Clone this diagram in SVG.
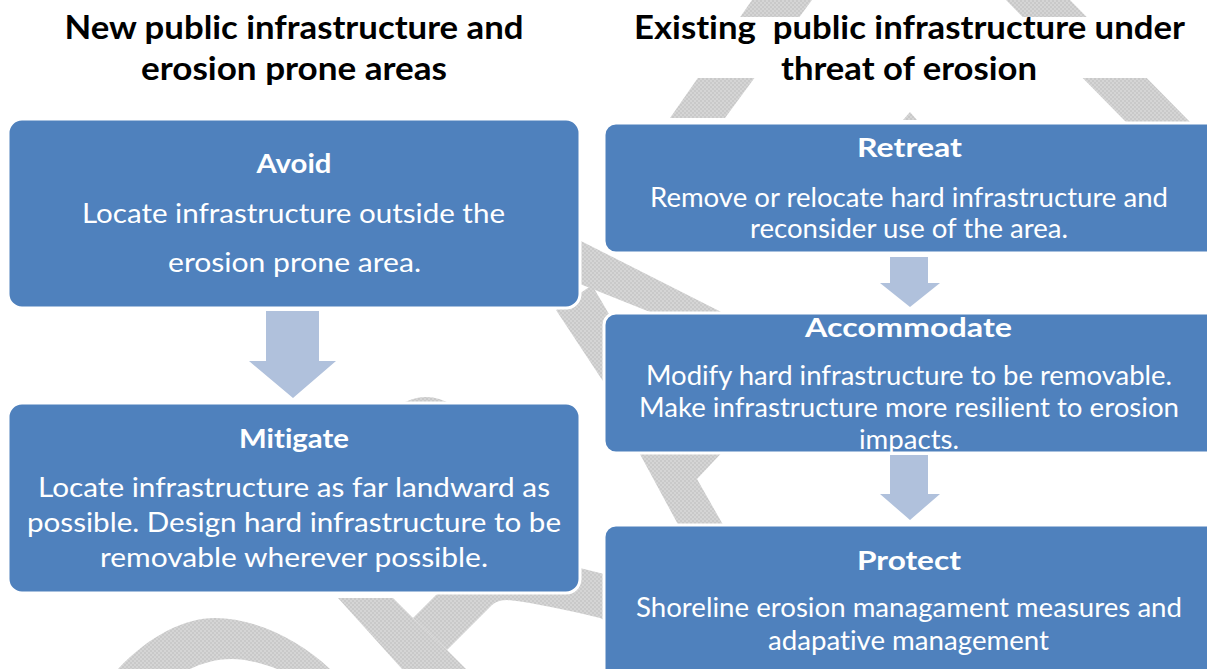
<svg xmlns="http://www.w3.org/2000/svg" width="1207" height="669" viewBox="0 0 1207 669">
  <defs>
    <!-- fine checker texture for the faint background watermark -->
    <pattern id="hatch" width="4" height="4" patternUnits="userSpaceOnUse">
      <rect width="4" height="4" fill="#d5d5d5"/>
      <rect width="2" height="2" fill="#c9c9c9"/>
      <rect x="2" y="2" width="2" height="2" fill="#c9c9c9"/>
    </pattern>
    <style>
      .wm { fill: url(#hatch); }
      .box { fill: #4f81bd; stroke: #ffffff; stroke-width: 3; }
      .arrow { fill: #b0c1dc; }
      text { font-family: Lato, "Liberation Sans", sans-serif; font-variant-ligatures: none; text-anchor: middle; }
      .title { font-weight: 700; font-size: 33px; fill: #000000; }
      .head { font-weight: 700; font-size: 27px; fill: #ffffff; }
      .body { font-weight: 400; font-size: 26px; fill: #ffffff; }
    </style>
  </defs>

  <rect width="1207" height="669" fill="#ffffff"/>

  <!-- faint watermark strokes behind everything -->
  <g id="watermark">
    <polygon class="wm" points="670,118 725,118 812,0 752,0"/>
    <polygon class="wm" points="1006,0 1070,0 1190,122 1126,122"/>
    <polygon class="wm" points="903,120 910,112 917,120"/>
    <polygon class="wm" points="575,238 737,320 670,320 575,282"/>
    <polygon class="wm" points="556,310 592,285 665,410 622,410"/>
    <polygon class="wm" points="635,445 729,445 697,479 726,530 681,530"/>
    <path class="wm" d="M398,406 Q426,388 454,406 Z"/>
    <path class="wm" d="M118,669 C150,635 185,618 215,618 C255,618 300,640 330,669 L277,669 C262,663 245,659 232,659 C215,659 200,664 190,669 Z"/>
    <polygon class="wm" points="338,598 393,598 413,618 447,650 466,669 402,669"/>
    <path class="wm" d="M413,618 L445,586 C470,566 520,556 560,563 L612,576 L612,624 L600,618 C570,611 535,603 507,600 C498,600 494,603 490,607 L447,650 Z"/>
    <!-- white panel behind the right-hand heading -->
    <rect x="600" y="17" width="607" height="61" fill="#ffffff"/>
  </g>

  <!-- column headings -->
  <g id="title-new">
    <text class="title" x="294" y="39" textLength="459" lengthAdjust="spacingAndGlyphs">New public infrastructure and</text>
    <text class="title" x="294" y="80" textLength="306" lengthAdjust="spacingAndGlyphs">erosion prone areas</text>
  </g>
  <g id="title-existing">
    <text class="title" x="909.5" y="39" textLength="551" lengthAdjust="spacingAndGlyphs" style="white-space:pre">Existing  public infrastructure under</text>
    <text class="title" x="909" y="80" textLength="256" lengthAdjust="spacingAndGlyphs">threat of erosion</text>
  </g>

  <!-- flow arrows -->
  <g id="connectors">
    <path class="arrow" d="M266,311 H319 V361 H336 L293,398 L249,361 H266 Z"/>
    <path class="arrow" d="M890,257 H928 V283 H940 L910,307 L880,283 H890 Z"/>
    <path class="arrow" d="M890,455 H928 V494 H940 L910,520 L880,494 H890 Z"/>
  </g>

  <g id="avoid">
    <rect class="box" x="8" y="119" width="572" height="189" rx="14"/>
    <text class="head" x="294" y="173" textLength="75" lengthAdjust="spacingAndGlyphs">Avoid</text>
    <text class="body" x="293.5" y="223" textLength="423" lengthAdjust="spacingAndGlyphs">Locate infrastructure outside the</text>
    <text class="body" x="294.5" y="272" textLength="253" lengthAdjust="spacingAndGlyphs">erosion prone area.</text>
  </g>

  <g id="mitigate">
    <rect class="box" x="8" y="403" width="572" height="190" rx="14"/>
    <text class="head" x="294" y="448" textLength="110" lengthAdjust="spacingAndGlyphs">Mitigate</text>
    <text class="body" x="294" y="497" textLength="512" lengthAdjust="spacingAndGlyphs">Locate infrastructure as far landward as</text>
    <text class="body" x="294" y="532" textLength="534" lengthAdjust="spacingAndGlyphs">possible. Design hard infrastructure to be</text>
    <text class="body" x="294" y="567" textLength="388" lengthAdjust="spacingAndGlyphs">removable wherever possible.</text>
  </g>

  <g id="retreat">
    <rect class="box" x="604" y="123" width="620" height="130" rx="12"/>
    <text class="head" x="909.5" y="157" textLength="105" lengthAdjust="spacingAndGlyphs">Retreat</text>
    <text class="body" x="909" y="207" textLength="518" lengthAdjust="spacingAndGlyphs">Remove or relocate hard infrastructure and</text>
    <text class="body" x="909" y="238" textLength="318" lengthAdjust="spacingAndGlyphs">reconsider use of the area.</text>
  </g>

  <g id="accommodate">
    <rect class="box" x="604" y="313" width="620" height="140" rx="12"/>
    <text class="head" x="908.5" y="337" textLength="207" lengthAdjust="spacingAndGlyphs">Accommodate</text>
    <text class="body" x="909" y="385" textLength="526" lengthAdjust="spacingAndGlyphs">Modify hard infrastructure to be removable.</text>
    <text class="body" x="909" y="417" textLength="540" lengthAdjust="spacingAndGlyphs">Make infrastructure more resilient to erosion</text>
    <text class="body" x="909" y="449" textLength="100" lengthAdjust="spacingAndGlyphs">impacts.</text>
  </g>

  <g id="protect">
    <rect class="box" x="604" y="525" width="620" height="160" rx="12"/>
    <text class="head" x="909" y="570" textLength="104" lengthAdjust="spacingAndGlyphs">Protect</text>
    <text class="body" x="909" y="617" textLength="546" lengthAdjust="spacingAndGlyphs">Shoreline erosion managament measures and</text>
    <text class="body" x="908.5" y="650" textLength="281" lengthAdjust="spacingAndGlyphs">adapative management</text>
  </g>
</svg>
